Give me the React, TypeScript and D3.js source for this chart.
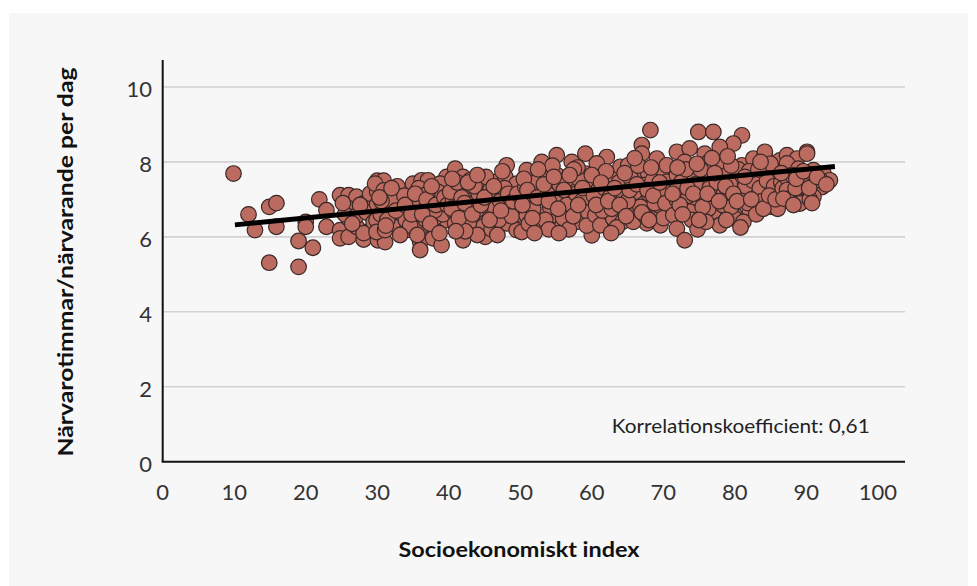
import React from "react";
import * as d3 from "d3";

const xTicks = [0, 10, 20, 30, 40, 50, 60, 70, 80, 90, 100];
const yTicks = [0, 2, 4, 6, 8, 10];
const xTitle = "Socioekonomiskt index";
const yTitle = "Närvarotimmar/närvarande per dag";
const corrLabel = "Korrelationskoefficient: 0,61";

// [socioekonomiskt index, närvarotimmar per närvarande och dag]
const scatterPoints: [number, number][] = [
  [9.9, 7.69], [12.0, 6.6], [12.9, 6.18], [14.9, 6.8], [15.9, 6.9], [15.9, 6.27], [14.9, 5.31], [19.0, 5.89], [19.0, 5.2],
  [21.0, 5.71], [20.0, 6.4], [20.0, 6.27], [21.9, 7.0], [22.9, 6.71], [22.9, 6.27], [24.8, 7.11],
  [24.8, 6.18], [24.8, 5.96], [26.0, 7.11], [27.1, 7.07], [26.0, 6.76], [28.1, 6.89], [26.0, 6.49], [26.0, 6.0], [28.1, 6.13],
  [28.1, 5.93], [27.1, 6.27], [25.5, 6.6], [27.0, 6.55], [28.5, 6.65], [29.0, 7.15], [28.1, 6.1], [26.5, 6.35], [29.5, 6.4],
  [25.2, 6.9], [27.6, 6.85],
  [30.0, 7.5], [30.9, 7.5], [30.0, 7.2], [31.0, 7.2], [30.0, 6.87], [30.1, 5.91], [31.1, 5.86], [32.5, 6.36], [32.5, 7.04],
  [29.7, 7.42], [30.9, 7.24], [33.0, 7.2], [35.0, 7.42], [36.2, 7.51], [37.1, 7.51], [34.1, 6.93], [36.0, 6.93], [38.3, 7.07],
  [39.7, 7.6], [29.9, 6.45], [29.9, 6.13], [31.1, 6.18], [31.8, 6.62], [33.0, 6.27], [34.1, 6.18], [35.0, 6.45], [36.0, 6.22],
  [36.0, 5.87], [36.0, 5.65], [37.8, 6.27], [37.8, 5.96], [39.0, 5.78], [37.1, 6.67], [38.8, 6.8], [39.7, 6.45], [33.0, 6.8],
  [31.8, 7.07], [35.0, 6.71], [39.5, 7.33], [38.8, 7.42],
  [31.5, 6.75], [32.2, 6.95], [33.5, 6.6], [34.5, 7.05], [35.5, 6.85], [36.5, 7.2], [37.5, 6.95], [38.0, 6.5], [38.5, 7.2],
  [32.8, 7.35], [34.0, 6.45], [36.8, 6.45], [39.2, 6.6], [30.5, 6.6], [33.8, 7.1], [35.8, 7.3], [37.0, 7.15], [34.6, 6.3],
  [31.4, 6.45], [38.0, 6.7],
  [30.6, 6.95], [31.2, 6.3], [32.0, 7.3], [32.6, 6.7], [33.2, 6.05], [33.9, 6.85], [34.8, 6.6], [35.3, 7.15], [36.3, 6.6],
  [36.9, 7.0], [37.4, 6.35], [38.2, 6.85], [38.7, 6.1], [39.4, 7.05], [39.8, 6.85], [35.6, 6.05], [37.6, 7.35], [30.3, 7.05],
  [40.9, 7.82], [41.1, 7.29], [42.0, 7.6], [43.0, 7.51], [44.8, 7.51], [44.8, 7.29], [46.7, 7.47], [48.1, 7.91], [47.9, 7.6],
  [49.0, 7.25], [49.5, 7.42], [40.9, 6.62], [40.9, 6.36], [42.0, 5.91], [43.9, 6.45], [43.9, 6.71], [44.8, 6.27], [45.1, 6.0],
  [46.2, 6.53], [48.1, 6.36], [48.1, 6.76], [49.5, 6.18], [43.0, 7.07], [40.6, 6.98], [46.7, 7.07], [42.0, 7.29],
  [40.2, 7.2], [41.5, 6.85], [42.5, 6.6], [43.5, 6.9], [44.2, 7.15], [45.5, 6.85], [45.8, 7.25], [46.5, 6.75], [47.2, 6.95],
  [47.8, 7.3], [48.6, 7.05], [49.2, 6.85], [41.8, 7.05], [42.8, 6.35], [44.0, 6.05], [46.0, 6.2], [47.0, 6.45], [49.8, 6.6],
  [40.4, 6.75], [45.2, 7.6], [47.5, 7.75], [43.6, 7.35], [41.2, 7.45], [48.8, 6.55], [42.3, 6.15],
  [40.5, 7.55], [41.4, 6.5], [42.2, 6.9], [42.7, 7.45], [43.3, 6.6], [44.5, 6.85], [45.0, 7.05], [45.7, 6.45], [46.3, 7.35],
  [47.3, 6.7], [48.3, 7.15], [49.0, 6.95], [49.6, 7.15], [44.0, 7.65], [46.8, 6.05], [41.0, 6.15],
  [50.9, 7.78], [53.0, 7.6], [55.1, 7.65], [59.1, 7.69], [50.7, 7.33], [52.8, 7.25], [54.9, 7.38], [57.0, 7.29], [59.1, 7.38],
  [50.9, 6.93], [53.0, 6.98], [55.1, 6.93], [57.2, 7.02], [59.1, 6.85], [50.9, 6.58], [53.0, 6.67], [54.9, 6.58], [57.0, 6.67],
  [58.4, 6.49], [50.2, 6.13], [55.8, 6.27], [57.9, 6.4], [52.8, 6.31], [60.0, 6.04], [55.1, 8.18], [59.1, 8.22], [53.0, 8.0],
  [57.2, 8.0],
  [51.5, 7.1], [52.2, 7.45], [53.8, 7.15], [54.2, 6.8], [55.8, 7.1], [56.3, 7.5], [56.5, 6.85], [57.8, 7.15], [58.2, 7.55],
  [58.8, 7.0], [59.5, 6.65], [51.8, 6.75], [53.5, 6.45], [56.0, 6.5], [51.2, 6.35], [54.5, 7.9], [58.0, 7.85], [52.5, 7.8],
  [55.5, 7.4], [59.8, 7.3], [50.5, 7.55], [56.8, 6.2], [54.0, 6.2], [57.5, 7.8],
  [50.3, 6.85], [51.0, 7.25], [51.7, 6.5], [52.4, 7.05], [53.3, 7.4], [54.0, 6.95], [54.7, 7.6], [55.3, 6.75], [56.1, 7.25],
  [56.9, 7.65], [57.4, 6.55], [58.1, 6.85], [58.7, 7.3], [59.3, 6.3], [55.4, 6.1], [52.0, 6.1],
  [61.2, 7.56], [63.0, 7.6], [66.1, 7.6], [67.9, 7.69], [69.6, 7.69], [60.9, 7.25], [63.0, 7.16], [64.9, 7.33], [67.2, 7.38],
  [69.1, 7.25], [70.5, 7.47], [61.6, 6.93], [63.3, 6.89], [65.4, 6.85], [67.2, 6.98], [69.6, 7.02], [60.5, 6.58], [62.1, 6.4],
  [64.0, 6.67], [66.1, 6.62], [68.6, 6.62], [70.5, 6.71], [61.2, 6.31], [63.0, 6.49], [67.7, 6.36], [69.6, 6.31], [62.1, 8.13],
  [60.7, 7.96], [64.0, 7.87], [65.1, 7.91], [69.1, 8.09], [70.5, 7.91], [68.2, 8.85], [67.0, 8.45], [67.0, 8.22],
  [60.3, 7.1], [61.8, 7.3], [62.5, 7.05], [63.8, 7.45], [64.5, 7.1], [65.5, 7.55], [66.0, 7.2], [66.8, 6.8], [68.0, 7.15],
  [68.5, 7.5], [69.3, 6.85], [70.2, 7.2], [61.5, 6.7], [62.8, 6.75], [64.3, 6.4], [65.8, 6.4], [67.5, 6.55], [68.8, 6.9],
  [70.0, 6.5], [62.0, 7.75], [64.6, 7.7], [66.5, 7.9], [68.3, 7.85], [63.5, 6.25], [65.0, 6.95], [60.0, 7.65],
  [60.6, 6.85], [61.3, 7.45], [62.3, 6.95], [63.2, 7.3], [63.9, 6.85], [64.8, 6.55], [65.3, 7.25], [66.3, 7.4], [67.0, 6.65],
  [67.8, 7.25], [68.6, 7.1], [69.5, 7.45], [70.3, 6.9], [66.0, 8.1], [62.7, 6.1], [68.0, 6.45],
  [74.9, 8.8], [77.0, 8.8], [81.0, 8.71], [79.8, 8.49], [77.9, 8.4], [71.9, 8.27], [73.7, 8.36], [75.8, 8.22], [73.0, 8.0],
  [76.1, 7.96], [78.2, 7.96], [81.0, 7.91], [82.6, 8.09], [84.2, 8.22], [86.3, 8.04], [71.9, 7.65], [74.2, 7.69], [76.8, 7.56],
  [78.9, 7.65], [81.0, 7.56], [83.1, 7.6], [85.4, 7.6], [87.0, 7.73], [72.8, 7.25], [75.4, 7.33], [77.9, 7.25], [80.0, 7.38],
  [82.1, 7.29], [84.2, 7.25], [85.9, 7.2], [71.9, 6.98], [74.4, 6.98], [77.0, 7.07], [79.1, 7.02], [81.0, 7.11], [83.1, 7.07],
  [84.9, 6.85], [87.0, 6.98], [71.4, 6.58], [73.7, 6.67], [77.0, 6.67], [80.0, 6.58], [82.1, 6.71], [71.9, 6.22], [77.9, 6.31],
  [80.0, 6.49], [73.0, 5.91], [75.6, 6.58], [85.2, 6.8], [84.2, 8.27],
  [72.5, 7.45], [73.5, 7.1], [74.5, 7.4], [75.2, 7.8], [75.8, 7.0], [76.5, 7.3], [77.5, 7.45], [78.5, 7.15], [79.3, 7.4],
  [80.5, 7.8], [81.5, 7.35], [82.5, 7.5], [83.5, 7.3], [84.5, 7.5], [85.5, 7.35], [86.5, 7.45], [72.3, 6.85], [74.0, 6.45],
  [76.3, 6.75], [78.3, 6.85], [79.5, 6.8], [81.8, 6.9], [83.8, 6.95], [86.0, 6.75], [73.2, 7.8], [76.8, 8.1], [79.5, 7.9],
  [82.0, 7.75], [85.0, 7.95], [74.8, 6.2], [78.8, 6.45], [81.2, 6.4], [83.0, 6.6], [76.0, 6.4], [72.0, 7.3],
  [71.3, 7.15], [72.0, 7.85], [72.7, 6.6], [73.4, 7.3], [74.2, 7.15], [74.7, 7.95], [75.5, 6.8], [76.2, 7.15], [77.2, 7.7],
  [77.8, 6.95], [78.7, 7.35], [79.8, 7.15], [80.3, 6.95], [81.4, 7.6], [82.3, 7.0], [83.3, 7.8], [84.0, 6.75], [84.8, 7.1],
  [85.7, 7.0], [86.7, 7.3], [80.8, 6.25], [75.0, 6.45], [79.0, 8.15], [83.6, 8.0],
  [90.1, 8.27], [87.3, 8.18], [88.7, 8.09], [87.3, 7.96], [88.9, 7.82], [91.0, 7.78], [92.4, 7.69], [93.3, 7.51], [91.0, 7.47],
  [89.1, 7.47], [87.5, 7.51], [87.3, 7.25], [89.4, 7.16], [91.0, 7.25], [92.2, 7.33], [87.7, 7.02], [89.1, 6.93], [86.8, 7.02],
  [91.0, 7.07], [89.1, 6.89], [90.1, 8.22],
  [88.0, 7.65], [90.0, 7.6], [89.8, 7.35], [88.5, 7.3], [90.5, 7.0], [92.0, 7.5], [86.5, 7.7], [88.2, 6.85],
  [88.6, 7.55], [89.6, 7.75], [90.4, 7.3], [91.5, 7.6], [92.8, 7.4], [90.8, 6.9],
];

// trend line end points [index, hours]
const trendLine: [number, number][] = [
  [10.1, 6.32],
  [94.0, 7.88],
];

const W = 977;
const H = 586;

export default function App() {
  const x = d3.scaleLinear().domain([0, 103.8]).range([162.7, 905]);
  const y = d3.scaleLinear().domain([0, 10.72]).range([461.7, 60]);
  const line = d3
    .line<[number, number]>()
    .x((d) => x(d[0]))
    .y((d) => y(d[1]));

  const tickFont = "Lato, 'Open Sans', sans-serif";

  return (
    <svg
      width={W}
      height={H}
      viewBox={`0 0 ${W} ${H}`}
      style={{ position: "absolute", left: 0, top: 0, display: "block" }}
    >
      <rect x={0} y={0} width={W} height={H} fill="#ffffff" />
      <rect x={9} y={13} width={959} height={H - 13} fill="#f7f7f7" />

      {/* gridlines */}
      {yTicks
        .filter((t) => t > 0)
        .map((t) => (
          <line
            key={"g" + t}
            x1={x(0)}
            x2={x(103.8)}
            y1={y(t)}
            y2={y(t)}
            stroke="#d2d2d2"
            strokeWidth={1.6}
          />
        ))}

      {/* axes */}
      <line x1={x(0)} x2={x(0)} y1={y(10.72)} y2={y(0)} stroke="#111" strokeWidth={2} />
      <line x1={x(0) - 1} x2={x(103.8)} y1={y(0)} y2={y(0)} stroke="#111" strokeWidth={2} />

      {/* y tick labels */}
      {yTicks.map((t) => (
        <text
          key={"y" + t}
          x={152}
          y={y(t) + 1.5}
          textAnchor="end"
          dominantBaseline="central"
          fontFamily={tickFont}
          fontSize={22}
          fill="#333"
        >
          {t}
        </text>
      ))}

      {/* x tick labels */}
      {xTicks.map((t) => (
        <text
          key={"x" + t}
          x={x(t)}
          y={491}
          textAnchor="middle"
          dominantBaseline="central"
          fontFamily={tickFont}
          fontSize={22}
          fill="#333"
        >
          {t}
        </text>
      ))}

      {/* points */}
      <g>
        {scatterPoints.map((p, i) => (
          <circle
            key={i}
            cx={x(p[0])}
            cy={y(p[1])}
            r={7.8}
            fill="#bb6b5f"
            stroke="#3a2826"
            strokeWidth={1.2}
          />
        ))}
      </g>

      {/* trend line */}
      <path d={line(trendLine) || ""} fill="none" stroke="#000" strokeWidth={5} />

      {/* correlation label */}
      <text
        x={611.7}
        y={425}
        dominantBaseline="central"
        fontFamily={tickFont}
        fontSize={20}
        fill="#222"
        textLength={258}
        lengthAdjust="spacingAndGlyphs"
      >
        {corrLabel}
      </text>

      {/* axis titles */}
      <text
        x={519}
        y={549}
        textAnchor="middle"
        dominantBaseline="central"
        fontFamily={tickFont}
        fontWeight={700}
        fontSize={20}
        fill="#111"
        textLength={241}
        lengthAdjust="spacingAndGlyphs"
      >
        {xTitle}
      </text>
      <text
        transform={`translate(65,262) rotate(-90)`}
        textAnchor="middle"
        dominantBaseline="central"
        fontFamily={tickFont}
        fontWeight={700}
        fontSize={20}
        fill="#111"
        textLength={389}
        lengthAdjust="spacingAndGlyphs"
      >
        {yTitle}
      </text>
    </svg>
  );
}
